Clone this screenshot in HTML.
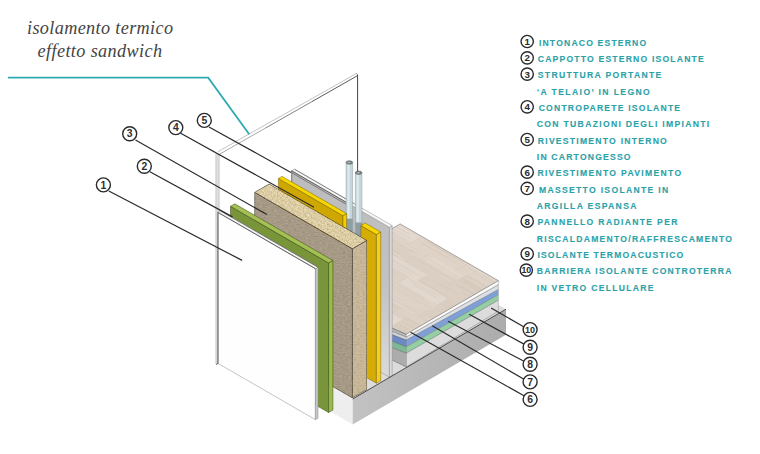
<!DOCTYPE html>
<html><head><meta charset="utf-8"><style>
html,body{margin:0;padding:0;background:#fff;}
body{width:760px;height:454px;overflow:hidden;font-family:"Liberation Sans",sans-serif;}
svg{display:block;}
</style></head><body>
<svg width="760" height="454" viewBox="0 0 760 454">
<defs>
<linearGradient id="baseg" x1="0" y1="0" x2="1" y2="0"><stop offset="0" stop-color="#c2c2c2"/><stop offset="1" stop-color="#acacac"/></linearGradient>
<linearGradient id="grayg" x1="0" y1="0" x2="0" y2="1"><stop offset="0" stop-color="#bcbcbc"/><stop offset="0.55" stop-color="#c2c2c2"/><stop offset="1" stop-color="#dadada"/></linearGradient>
<filter id="speckA" x="0" y="0" width="100%" height="100%" color-interpolation-filters="sRGB">
<feTurbulence type="fractalNoise" baseFrequency="0.35 0.9" numOctaves="2" seed="4" result="n"/>
<feColorMatrix in="n" type="matrix" values="1 0 0 0 0  1 0 0 0 0  1 0 0 0 0  0 0 0 0 1" result="g"/>
<feComposite in="g" in2="SourceGraphic" operator="arithmetic" k1="0" k2="0.15" k3="1" k4="-0.075" result="c"/>
<feComposite in="c" in2="SourceGraphic" operator="in"/>
</filter>
<filter id="speckB" x="0" y="0" width="100%" height="100%" color-interpolation-filters="sRGB">
<feTurbulence type="fractalNoise" baseFrequency="0.62" numOctaves="2" seed="9" result="n"/>
<feColorMatrix in="n" type="matrix" values="1 0 0 0 0  1 0 0 0 0  1 0 0 0 0  0 0 0 0 1" result="g"/>
<feComposite in="g" in2="SourceGraphic" operator="arithmetic" k1="0" k2="0.3" k3="1" k4="-0.15" result="c"/>
<feComposite in="c" in2="SourceGraphic" operator="in"/>
</filter>
</defs>
<rect width="760" height="454" fill="#ffffff"/>
<line x1="218.00" y1="151.60" x2="356.40" y2="73.50" stroke="#bcbcbc" stroke-width="0.9" />
<line x1="219.60" y1="154.20" x2="265.60" y2="128.00" stroke="#a0a0a0" stroke-width="0.9" />
<line x1="265.60" y1="128.00" x2="311.60" y2="101.80" stroke="#7a7a7a" stroke-width="0.95" />
<line x1="311.60" y1="101.80" x2="357.60" y2="75.60" stroke="#5a5a5a" stroke-width="1.0" />
<line x1="356.40" y1="73.50" x2="357.90" y2="74.80" stroke="#666" stroke-width="0.9" />
<line x1="357.60" y1="75.00" x2="357.60" y2="172.00" stroke="#444" stroke-width="1.0" />
<rect x="215.8" y="153.6" width="3.4" height="210.4" fill="#dedede"/>
<line x1="215.80" y1="153.60" x2="215.80" y2="364.00" stroke="#bcbcbc" stroke-width="0.6" />
<line x1="219.20" y1="153.60" x2="219.20" y2="212.50" stroke="#b8b8b8" stroke-width="0.6" />
<polygon points="232.70,329.72 352.70,399.00 506.00,309.20 386.00,239.92" fill="#dcdcdc" />
<polygon points="232.70,329.72 352.70,399.00 352.70,424.40 232.70,355.12" fill="#eeeeee" />
<polygon points="352.70,399.00 506.00,309.20 506.00,334.70 352.70,424.40" fill="url(#baseg)" />
<polygon points="406.20,334.20 498.40,280.70 498.40,284.60 406.20,337.00" fill="#fbfbfb" />
<polygon points="406.20,337.00 498.40,284.60 498.40,289.40 406.20,340.00" fill="#dcdfe3" />
<polygon points="406.20,340.00 498.40,289.40 498.40,294.70 406.20,346.80" fill="#7f9fd9" />
<polygon points="406.20,346.80 498.40,294.70 498.40,300.10 406.20,353.20" fill="#93cfa3" />
<polygon points="406.20,353.20 498.40,300.10 498.40,311.20 406.20,367.00" fill="#dcdcdc" />
<line x1="406.20" y1="337.00" x2="498.40" y2="284.60" stroke="#555" stroke-width="0.45" />
<line x1="406.20" y1="340.00" x2="498.40" y2="289.40" stroke="#6a6a6a" stroke-width="0.45" />
<line x1="406.20" y1="346.80" x2="498.40" y2="294.70" stroke="#6a6a6a" stroke-width="0.45" />
<line x1="406.20" y1="353.20" x2="498.40" y2="300.10" stroke="#555" stroke-width="0.45" />
<line x1="406.20" y1="367.00" x2="498.40" y2="311.20" stroke="#777" stroke-width="0.5" />
<line x1="406.20" y1="334.20" x2="406.20" y2="367.00" stroke="#666" stroke-width="0.5" />
<line x1="498.40" y1="280.70" x2="498.40" y2="311.20" stroke="#999" stroke-width="0.5" />
<polygon points="392.00,327.80 406.20,334.20 406.20,337.00 392.00,331.20" fill="#b9b9b9" />
<polygon points="392.00,331.20 406.20,337.00 406.20,340.00 392.00,334.60" fill="#d2d4d8" />
<polygon points="392.00,334.60 406.20,340.00 406.20,346.80 392.00,341.20" fill="#6b89c2" />
<polygon points="392.00,341.20 406.20,346.80 406.20,353.20 392.00,347.60" fill="#7cb893" />
<polygon points="392.00,347.60 406.20,353.20 406.20,367.00 392.00,360.00" fill="#acacac" />
<line x1="392.00" y1="331.20" x2="406.20" y2="337.00" stroke="#555" stroke-width="0.45" />
<line x1="392.00" y1="334.60" x2="406.20" y2="340.00" stroke="#555" stroke-width="0.45" />
<line x1="392.00" y1="341.20" x2="406.20" y2="346.80" stroke="#555" stroke-width="0.45" />
<line x1="392.00" y1="347.60" x2="406.20" y2="353.20" stroke="#555" stroke-width="0.45" />
<line x1="392.00" y1="360.00" x2="406.20" y2="367.00" stroke="#555" stroke-width="0.45" />
<line x1="392.00" y1="327.80" x2="406.20" y2="334.20" stroke="#555" stroke-width="0.5" />
<clipPath id="woodclip"><polygon points="400.20,223.90 498.40,280.70 406.20,334.20 390.00,327.00 390.00,229.80"/></clipPath>
<g clip-path="url(#woodclip)">
<polygon points="400.20,223.90 498.40,280.70 406.20,334.20 390.00,327.00 390.00,229.80" fill="#ddd1c5" />
<polygon points="384.01,214.55 422.03,236.50 411.78,242.45 373.76,220.50" fill="#e3d9cf" />
<line x1="394.91" y1="222.49" x2="419.19" y2="236.51" stroke="#d4c6b9" stroke-width="0.45" />
<line x1="390.12" y1="219.82" x2="419.96" y2="237.05" stroke="#e9e0d7" stroke-width="0.45" />
<line x1="383.17" y1="219.22" x2="409.31" y2="234.31" stroke="#d0c2b4" stroke-width="0.45" />
<line x1="378.06" y1="220.15" x2="410.88" y2="239.09" stroke="#d4c6b9" stroke-width="0.45" />
<line x1="422.03" y1="236.50" x2="411.78" y2="242.45" stroke="#c9b9aa" stroke-width="0.4" />
<polygon points="422.03,236.50 468.69,263.44 458.44,269.38 411.78,242.45" fill="#dfd3c8" />
<line x1="422.22" y1="243.28" x2="448.29" y2="258.32" stroke="#d0c2b4" stroke-width="0.45" />
<line x1="418.44" y1="240.90" x2="456.81" y2="263.05" stroke="#d4c6b9" stroke-width="0.45" />
<line x1="424.66" y1="240.33" x2="454.45" y2="257.53" stroke="#d0c2b4" stroke-width="0.45" />
<line x1="428.72" y1="242.53" x2="464.00" y2="262.90" stroke="#d0c2b4" stroke-width="0.45" />
<line x1="468.69" y1="263.44" x2="458.44" y2="269.38" stroke="#c9b9aa" stroke-width="0.4" />
<polygon points="468.69,263.44 514.64,289.97 504.40,295.92 458.44,269.38" fill="#dfd3c8" />
<line x1="472.32" y1="272.08" x2="501.54" y2="288.95" stroke="#d4c6b9" stroke-width="0.45" />
<line x1="468.87" y1="268.79" x2="501.33" y2="287.53" stroke="#e9e0d7" stroke-width="0.45" />
<line x1="468.42" y1="267.91" x2="507.96" y2="290.73" stroke="#d0c2b4" stroke-width="0.45" />
<line x1="471.49" y1="267.02" x2="505.52" y2="286.67" stroke="#e9e0d7" stroke-width="0.45" />
<line x1="514.64" y1="289.97" x2="504.40" y2="295.92" stroke="#c9b9aa" stroke-width="0.4" />
<polygon points="353.48,208.79 394.24,232.32 384.00,238.26 343.24,214.73" fill="#dfd3c8" />
<line x1="357.76" y1="213.56" x2="380.89" y2="226.92" stroke="#d0c2b4" stroke-width="0.45" />
<line x1="351.14" y1="217.47" x2="371.14" y2="229.02" stroke="#d0c2b4" stroke-width="0.45" />
<line x1="354.79" y1="217.98" x2="373.82" y2="228.97" stroke="#e9e0d7" stroke-width="0.45" />
<line x1="354.92" y1="214.03" x2="382.98" y2="230.23" stroke="#e9e0d7" stroke-width="0.45" />
<line x1="394.24" y1="232.32" x2="384.00" y2="238.26" stroke="#c9b9aa" stroke-width="0.4" />
<polygon points="394.24,232.32 430.62,253.32 420.37,259.26 384.00,238.26" fill="#dfd3c8" />
<line x1="392.59" y1="241.51" x2="411.89" y2="252.66" stroke="#d0c2b4" stroke-width="0.45" />
<line x1="391.87" y1="239.07" x2="414.93" y2="252.39" stroke="#d4c6b9" stroke-width="0.45" />
<line x1="390.75" y1="239.29" x2="417.07" y2="254.48" stroke="#d4c6b9" stroke-width="0.45" />
<line x1="404.48" y1="242.71" x2="421.42" y2="252.49" stroke="#d4c6b9" stroke-width="0.45" />
<line x1="430.62" y1="253.32" x2="420.37" y2="259.26" stroke="#c9b9aa" stroke-width="0.4" />
<polygon points="430.62,253.32 467.96,274.88 457.71,280.82 420.37,259.26" fill="#dfd3c8" />
<line x1="432.12" y1="257.44" x2="454.07" y2="270.12" stroke="#e9e0d7" stroke-width="0.45" />
<line x1="439.46" y1="263.32" x2="462.52" y2="276.64" stroke="#e9e0d7" stroke-width="0.45" />
<line x1="430.47" y1="258.23" x2="461.59" y2="276.20" stroke="#e9e0d7" stroke-width="0.45" />
<line x1="426.69" y1="260.43" x2="453.62" y2="275.99" stroke="#e9e0d7" stroke-width="0.45" />
<line x1="467.96" y1="274.88" x2="457.71" y2="280.82" stroke="#c9b9aa" stroke-width="0.4" />
<polygon points="467.96,274.88 516.61,302.97 506.37,308.91 457.71,280.82" fill="#d9cdc0" />
<line x1="461.35" y1="281.34" x2="505.10" y2="306.59" stroke="#d0c2b4" stroke-width="0.45" />
<line x1="461.72" y1="278.71" x2="497.73" y2="299.50" stroke="#d0c2b4" stroke-width="0.45" />
<line x1="464.84" y1="276.76" x2="507.15" y2="301.19" stroke="#e9e0d7" stroke-width="0.45" />
<line x1="466.72" y1="281.13" x2="508.71" y2="305.38" stroke="#d4c6b9" stroke-width="0.45" />
<line x1="516.61" y1="302.97" x2="506.37" y2="308.91" stroke="#c9b9aa" stroke-width="0.4" />
<polygon points="332.20,208.36 380.30,236.13 370.05,242.07 321.96,214.30" fill="#e3d9cf" />
<line x1="344.23" y1="217.00" x2="367.13" y2="230.22" stroke="#d4c6b9" stroke-width="0.45" />
<line x1="330.52" y1="216.15" x2="366.75" y2="237.06" stroke="#d0c2b4" stroke-width="0.45" />
<line x1="333.24" y1="214.71" x2="372.47" y2="237.36" stroke="#d0c2b4" stroke-width="0.45" />
<line x1="329.21" y1="212.00" x2="366.65" y2="233.62" stroke="#d0c2b4" stroke-width="0.45" />
<line x1="380.30" y1="236.13" x2="370.05" y2="242.07" stroke="#c9b9aa" stroke-width="0.4" />
<polygon points="380.30,236.13 415.30,256.34 405.06,262.28 370.05,242.07" fill="#dbcfc3" />
<line x1="389.11" y1="247.49" x2="400.68" y2="254.17" stroke="#d0c2b4" stroke-width="0.45" />
<line x1="381.32" y1="246.20" x2="404.89" y2="259.80" stroke="#e9e0d7" stroke-width="0.45" />
<line x1="380.48" y1="246.48" x2="399.34" y2="257.37" stroke="#d0c2b4" stroke-width="0.45" />
<line x1="387.21" y1="249.36" x2="400.33" y2="256.93" stroke="#e9e0d7" stroke-width="0.45" />
<line x1="415.30" y1="256.34" x2="405.06" y2="262.28" stroke="#c9b9aa" stroke-width="0.4" />
<polygon points="415.30,256.34 456.54,280.15 446.30,286.09 405.06,262.28" fill="#dbcfc3" />
<line x1="418.58" y1="260.39" x2="450.71" y2="278.93" stroke="#d4c6b9" stroke-width="0.45" />
<line x1="413.30" y1="257.90" x2="439.93" y2="273.27" stroke="#d4c6b9" stroke-width="0.45" />
<line x1="421.67" y1="264.63" x2="438.84" y2="274.54" stroke="#d4c6b9" stroke-width="0.45" />
<line x1="421.48" y1="263.92" x2="451.71" y2="281.37" stroke="#e9e0d7" stroke-width="0.45" />
<line x1="456.54" y1="280.15" x2="446.30" y2="286.09" stroke="#c9b9aa" stroke-width="0.4" />
<polygon points="456.54,280.15 501.91,306.34 491.66,312.28 446.30,286.09" fill="#dbcfc3" />
<line x1="455.94" y1="284.36" x2="489.85" y2="303.94" stroke="#d4c6b9" stroke-width="0.45" />
<line x1="456.16" y1="284.24" x2="486.01" y2="301.47" stroke="#d0c2b4" stroke-width="0.45" />
<line x1="461.19" y1="291.66" x2="483.18" y2="304.36" stroke="#d0c2b4" stroke-width="0.45" />
<line x1="461.27" y1="285.96" x2="488.28" y2="301.55" stroke="#d0c2b4" stroke-width="0.45" />
<line x1="501.91" y1="306.34" x2="491.66" y2="312.28" stroke="#c9b9aa" stroke-width="0.4" />
<polygon points="329.96,218.92 374.41,244.58 364.16,250.53 319.72,224.87" fill="#dbcfc3" />
<line x1="337.61" y1="231.10" x2="361.00" y2="244.60" stroke="#d4c6b9" stroke-width="0.45" />
<line x1="335.16" y1="232.49" x2="359.81" y2="246.72" stroke="#d0c2b4" stroke-width="0.45" />
<line x1="335.15" y1="224.08" x2="367.48" y2="242.74" stroke="#e9e0d7" stroke-width="0.45" />
<line x1="337.33" y1="230.28" x2="355.66" y2="240.87" stroke="#e9e0d7" stroke-width="0.45" />
<line x1="374.41" y1="244.58" x2="364.16" y2="250.53" stroke="#c9b9aa" stroke-width="0.4" />
<polygon points="374.41,244.58 427.59,275.29 417.35,281.24 364.16,250.53" fill="#e2d7cd" />
<line x1="368.10" y1="249.72" x2="410.10" y2="273.97" stroke="#e9e0d7" stroke-width="0.45" />
<line x1="378.22" y1="255.40" x2="412.98" y2="275.47" stroke="#d0c2b4" stroke-width="0.45" />
<line x1="379.36" y1="252.75" x2="421.71" y2="277.20" stroke="#d4c6b9" stroke-width="0.45" />
<line x1="376.16" y1="250.54" x2="409.12" y2="269.57" stroke="#d4c6b9" stroke-width="0.45" />
<line x1="427.59" y1="275.29" x2="417.35" y2="281.24" stroke="#c9b9aa" stroke-width="0.4" />
<polygon points="427.59,275.29 465.77,297.33 455.52,303.28 417.35,281.24" fill="#dbcfc3" />
<line x1="435.20" y1="281.13" x2="457.54" y2="294.03" stroke="#d4c6b9" stroke-width="0.45" />
<line x1="437.76" y1="283.74" x2="448.84" y2="290.13" stroke="#d4c6b9" stroke-width="0.45" />
<line x1="421.22" y1="281.69" x2="448.84" y2="297.64" stroke="#d0c2b4" stroke-width="0.45" />
<line x1="441.01" y1="284.36" x2="454.88" y2="292.37" stroke="#d4c6b9" stroke-width="0.45" />
<line x1="465.77" y1="297.33" x2="455.52" y2="303.28" stroke="#c9b9aa" stroke-width="0.4" />
<polygon points="465.77,297.33 515.76,326.19 505.51,332.14 455.52,303.28" fill="#dbcfc3" />
<line x1="474.26" y1="307.54" x2="498.78" y2="321.70" stroke="#d0c2b4" stroke-width="0.45" />
<line x1="467.70" y1="299.90" x2="506.99" y2="322.58" stroke="#d4c6b9" stroke-width="0.45" />
<line x1="470.24" y1="304.19" x2="499.55" y2="321.11" stroke="#d0c2b4" stroke-width="0.45" />
<line x1="462.59" y1="305.32" x2="500.40" y2="327.15" stroke="#d4c6b9" stroke-width="0.45" />
<line x1="515.76" y1="326.19" x2="505.51" y2="332.14" stroke="#c9b9aa" stroke-width="0.4" />
<polygon points="318.47,224.15 363.81,250.32 353.56,256.27 308.23,230.09" fill="#dccfc3" />
<line x1="317.45" y1="233.45" x2="347.28" y2="250.68" stroke="#d4c6b9" stroke-width="0.45" />
<line x1="326.35" y1="234.73" x2="346.95" y2="246.62" stroke="#d4c6b9" stroke-width="0.45" />
<line x1="329.40" y1="231.68" x2="360.16" y2="249.44" stroke="#e9e0d7" stroke-width="0.45" />
<line x1="314.18" y1="228.73" x2="356.78" y2="253.33" stroke="#d4c6b9" stroke-width="0.45" />
<line x1="363.81" y1="250.32" x2="353.56" y2="256.27" stroke="#c9b9aa" stroke-width="0.4" />
<polygon points="363.81,250.32 409.17,276.52 398.93,282.46 353.56,256.27" fill="#ddd1c5" />
<line x1="370.47" y1="259.94" x2="390.94" y2="271.76" stroke="#d0c2b4" stroke-width="0.45" />
<line x1="364.90" y1="254.50" x2="394.53" y2="271.60" stroke="#d4c6b9" stroke-width="0.45" />
<line x1="359.49" y1="253.31" x2="391.03" y2="271.52" stroke="#d0c2b4" stroke-width="0.45" />
<line x1="368.34" y1="258.33" x2="396.93" y2="274.84" stroke="#d4c6b9" stroke-width="0.45" />
<line x1="409.17" y1="276.52" x2="398.93" y2="282.46" stroke="#c9b9aa" stroke-width="0.4" />
<polygon points="409.17,276.52 448.16,299.03 437.92,304.97 398.93,282.46" fill="#e2d7cd" />
<line x1="412.44" y1="283.88" x2="436.26" y2="297.63" stroke="#d0c2b4" stroke-width="0.45" />
<line x1="415.57" y1="288.03" x2="427.27" y2="294.79" stroke="#e9e0d7" stroke-width="0.45" />
<line x1="413.98" y1="289.23" x2="436.53" y2="302.25" stroke="#e9e0d7" stroke-width="0.45" />
<line x1="408.85" y1="278.82" x2="439.38" y2="296.44" stroke="#d0c2b4" stroke-width="0.45" />
<line x1="448.16" y1="299.03" x2="437.92" y2="304.97" stroke="#c9b9aa" stroke-width="0.4" />
<polygon points="448.16,299.03 496.58,326.98 486.34,332.93 437.92,304.97" fill="#d9cdc0" />
<line x1="456.58" y1="305.77" x2="483.20" y2="321.14" stroke="#d0c2b4" stroke-width="0.45" />
<line x1="449.09" y1="309.66" x2="482.37" y2="328.87" stroke="#e9e0d7" stroke-width="0.45" />
<line x1="454.41" y1="312.20" x2="485.03" y2="329.87" stroke="#d0c2b4" stroke-width="0.45" />
<line x1="451.18" y1="305.73" x2="477.45" y2="320.90" stroke="#d0c2b4" stroke-width="0.45" />
<line x1="496.58" y1="326.98" x2="486.34" y2="332.93" stroke="#c9b9aa" stroke-width="0.4" />
<polygon points="340.90,248.96 384.53,274.15 374.29,280.10 330.66,254.91" fill="#ddd1c5" />
<line x1="342.89" y1="255.12" x2="374.85" y2="273.58" stroke="#d0c2b4" stroke-width="0.45" />
<line x1="334.25" y1="253.16" x2="369.28" y2="273.38" stroke="#e9e0d7" stroke-width="0.45" />
<line x1="339.88" y1="256.23" x2="369.99" y2="273.61" stroke="#e9e0d7" stroke-width="0.45" />
<line x1="336.65" y1="252.55" x2="364.54" y2="268.65" stroke="#d0c2b4" stroke-width="0.45" />
<line x1="384.53" y1="274.15" x2="374.29" y2="280.10" stroke="#c9b9aa" stroke-width="0.4" />
<polygon points="384.53,274.15 438.97,305.58 428.72,311.52 374.29,280.10" fill="#dfd3c8" />
<line x1="386.90" y1="277.50" x2="423.67" y2="298.73" stroke="#d0c2b4" stroke-width="0.45" />
<line x1="383.24" y1="277.15" x2="429.39" y2="303.80" stroke="#d4c6b9" stroke-width="0.45" />
<line x1="380.68" y1="280.88" x2="428.99" y2="308.77" stroke="#d4c6b9" stroke-width="0.45" />
<line x1="389.34" y1="283.52" x2="431.93" y2="308.11" stroke="#d0c2b4" stroke-width="0.45" />
<line x1="438.97" y1="305.58" x2="428.72" y2="311.52" stroke="#c9b9aa" stroke-width="0.4" />
<polygon points="438.97,305.58 489.96,335.02 479.72,340.96 428.72,311.52" fill="#dbcfc3" />
<line x1="435.54" y1="308.82" x2="471.38" y2="329.51" stroke="#d4c6b9" stroke-width="0.45" />
<line x1="441.13" y1="308.85" x2="479.09" y2="330.77" stroke="#d0c2b4" stroke-width="0.45" />
<line x1="450.34" y1="313.96" x2="481.58" y2="332.00" stroke="#e9e0d7" stroke-width="0.45" />
<line x1="436.06" y1="314.52" x2="467.06" y2="332.41" stroke="#d4c6b9" stroke-width="0.45" />
<line x1="489.96" y1="335.02" x2="479.72" y2="340.96" stroke="#c9b9aa" stroke-width="0.4" />
<polygon points="332.27,255.84 377.81,282.13 367.57,288.07 322.03,261.78" fill="#dbcfc3" />
<line x1="338.10" y1="269.29" x2="365.17" y2="284.92" stroke="#d0c2b4" stroke-width="0.45" />
<line x1="334.27" y1="260.09" x2="370.56" y2="281.04" stroke="#d0c2b4" stroke-width="0.45" />
<line x1="336.37" y1="262.14" x2="371.74" y2="282.56" stroke="#e9e0d7" stroke-width="0.45" />
<line x1="339.58" y1="268.87" x2="369.65" y2="286.22" stroke="#d0c2b4" stroke-width="0.45" />
<line x1="377.81" y1="282.13" x2="367.57" y2="288.07" stroke="#c9b9aa" stroke-width="0.4" />
<polygon points="377.81,282.13 427.47,310.80 417.23,316.74 367.57,288.07" fill="#ddd1c5" />
<line x1="376.48" y1="291.83" x2="414.75" y2="313.92" stroke="#e9e0d7" stroke-width="0.45" />
<line x1="388.20" y1="290.32" x2="419.09" y2="308.16" stroke="#e9e0d7" stroke-width="0.45" />
<line x1="385.64" y1="293.01" x2="407.42" y2="305.59" stroke="#e9e0d7" stroke-width="0.45" />
<line x1="385.89" y1="294.50" x2="415.67" y2="311.70" stroke="#d4c6b9" stroke-width="0.45" />
<line x1="427.47" y1="310.80" x2="417.23" y2="316.74" stroke="#c9b9aa" stroke-width="0.4" />
<polygon points="427.47,310.80 477.05,339.42 466.80,345.37 417.23,316.74" fill="#dbcfc3" />
<line x1="428.34" y1="316.33" x2="471.89" y2="341.47" stroke="#d0c2b4" stroke-width="0.45" />
<line x1="435.71" y1="316.88" x2="462.71" y2="332.47" stroke="#e9e0d7" stroke-width="0.45" />
<line x1="426.38" y1="312.90" x2="462.07" y2="333.51" stroke="#d4c6b9" stroke-width="0.45" />
<line x1="425.18" y1="317.02" x2="466.90" y2="341.11" stroke="#e9e0d7" stroke-width="0.45" />
<line x1="477.05" y1="339.42" x2="466.80" y2="345.37" stroke="#c9b9aa" stroke-width="0.4" />
<polygon points="326.23,264.21 364.93,286.55 354.69,292.50 315.98,270.15" fill="#e2d7cd" />
<line x1="325.50" y1="269.20" x2="345.83" y2="280.94" stroke="#d4c6b9" stroke-width="0.45" />
<line x1="323.07" y1="266.64" x2="348.02" y2="281.04" stroke="#d0c2b4" stroke-width="0.45" />
<line x1="322.30" y1="266.50" x2="355.26" y2="285.54" stroke="#e9e0d7" stroke-width="0.45" />
<line x1="332.76" y1="271.81" x2="357.90" y2="286.32" stroke="#d0c2b4" stroke-width="0.45" />
<line x1="364.93" y1="286.55" x2="354.69" y2="292.50" stroke="#c9b9aa" stroke-width="0.4" />
<polygon points="364.93,286.55 401.75,307.81 391.51,313.75 354.69,292.50" fill="#dccfc3" />
<line x1="369.17" y1="291.03" x2="399.37" y2="308.47" stroke="#d0c2b4" stroke-width="0.45" />
<line x1="370.90" y1="294.03" x2="397.00" y2="309.10" stroke="#d4c6b9" stroke-width="0.45" />
<line x1="359.25" y1="292.55" x2="380.34" y2="304.73" stroke="#d4c6b9" stroke-width="0.45" />
<line x1="365.61" y1="291.82" x2="382.76" y2="301.73" stroke="#d0c2b4" stroke-width="0.45" />
<line x1="401.75" y1="307.81" x2="391.51" y2="313.75" stroke="#c9b9aa" stroke-width="0.4" />
<polygon points="401.75,307.81 442.43,331.30 432.19,337.24 391.51,313.75" fill="#ddd1c5" />
<line x1="396.11" y1="311.84" x2="423.61" y2="327.72" stroke="#d4c6b9" stroke-width="0.45" />
<line x1="406.59" y1="317.74" x2="424.09" y2="327.84" stroke="#d0c2b4" stroke-width="0.45" />
<line x1="404.56" y1="319.25" x2="425.43" y2="331.30" stroke="#d0c2b4" stroke-width="0.45" />
<line x1="402.71" y1="317.39" x2="421.24" y2="328.09" stroke="#d4c6b9" stroke-width="0.45" />
<line x1="442.43" y1="331.30" x2="432.19" y2="337.24" stroke="#c9b9aa" stroke-width="0.4" />
<polygon points="270.44,243.86 318.30,271.49 308.05,277.43 260.20,249.80" fill="#dfd3c8" />
<line x1="271.16" y1="245.75" x2="311.61" y2="269.11" stroke="#d0c2b4" stroke-width="0.45" />
<line x1="273.10" y1="250.15" x2="313.43" y2="273.43" stroke="#d0c2b4" stroke-width="0.45" />
<line x1="274.49" y1="253.32" x2="304.80" y2="270.82" stroke="#d0c2b4" stroke-width="0.45" />
<line x1="266.72" y1="247.23" x2="299.54" y2="266.18" stroke="#d4c6b9" stroke-width="0.45" />
<line x1="318.30" y1="271.49" x2="308.05" y2="277.43" stroke="#c9b9aa" stroke-width="0.4" />
<polygon points="318.30,271.49 355.14,292.76 344.89,298.70 308.05,277.43" fill="#ddd1c5" />
<line x1="327.78" y1="278.78" x2="349.79" y2="291.48" stroke="#d0c2b4" stroke-width="0.45" />
<line x1="313.86" y1="278.14" x2="335.83" y2="290.82" stroke="#d0c2b4" stroke-width="0.45" />
<line x1="325.85" y1="284.05" x2="340.64" y2="292.59" stroke="#e9e0d7" stroke-width="0.45" />
<line x1="330.30" y1="280.33" x2="349.17" y2="291.23" stroke="#d0c2b4" stroke-width="0.45" />
<line x1="355.14" y1="292.76" x2="344.89" y2="298.70" stroke="#c9b9aa" stroke-width="0.4" />
<polygon points="355.14,292.76 402.48,320.09 392.23,326.03 344.89,298.70" fill="#e3d9cf" />
<line x1="361.48" y1="299.49" x2="394.85" y2="318.75" stroke="#d4c6b9" stroke-width="0.45" />
<line x1="352.59" y1="299.52" x2="386.84" y2="319.30" stroke="#d0c2b4" stroke-width="0.45" />
<line x1="357.45" y1="299.85" x2="382.91" y2="314.55" stroke="#d0c2b4" stroke-width="0.45" />
<line x1="358.58" y1="302.49" x2="391.42" y2="321.45" stroke="#d4c6b9" stroke-width="0.45" />
<line x1="402.48" y1="320.09" x2="392.23" y2="326.03" stroke="#c9b9aa" stroke-width="0.4" />
<polygon points="402.48,320.09 443.19,343.59 432.94,349.54 392.23,326.03" fill="#d9cdc0" />
<line x1="399.41" y1="323.93" x2="424.94" y2="338.66" stroke="#d0c2b4" stroke-width="0.45" />
<line x1="400.19" y1="322.91" x2="432.51" y2="341.57" stroke="#e9e0d7" stroke-width="0.45" />
<line x1="409.99" y1="329.96" x2="423.88" y2="337.98" stroke="#e9e0d7" stroke-width="0.45" />
<line x1="399.11" y1="328.76" x2="420.27" y2="340.98" stroke="#d0c2b4" stroke-width="0.45" />
<line x1="443.19" y1="343.59" x2="432.94" y2="349.54" stroke="#c9b9aa" stroke-width="0.4" />
</g>
<polygon points="400.20,223.90 498.40,280.70 406.20,334.20 390.00,327.00 390.00,229.80" fill="none" stroke="#6a6a6a" stroke-width="0.55" stroke-linejoin="round" />
<polygon points="291.70,170.80 389.40,227.21 389.40,377.21 291.70,320.80" fill="url(#grayg)" stroke="#8a8a8a" stroke-width="0.5" stroke-linejoin="round" />
<polygon points="389.40,227.21 392.20,225.59 392.20,375.59 389.40,377.21" fill="#d8d8d8" stroke="#8a8a8a" stroke-width="0.5" stroke-linejoin="round" />
<polygon points="291.70,170.80 389.40,227.21 392.20,225.59 294.50,169.18" fill="#f6f6f6" stroke="#8a8a8a" stroke-width="0.5" stroke-linejoin="round" />
<line x1="291.70" y1="170.80" x2="351.70" y2="205.44" stroke="#3c3c3c" stroke-width="0.7" />
<line x1="291.70" y1="172.80" x2="351.70" y2="207.44" stroke="#4a4a4a" stroke-width="0.6" />
<line x1="294.50" y1="169.18" x2="354.50" y2="203.82" stroke="#555" stroke-width="0.6" />
<line x1="291.70" y1="170.80" x2="291.70" y2="200.00" stroke="#666" stroke-width="0.7" />
<rect x="346.1" y="162.5" width="6.5" height="97.5" fill="#c5d6da"/>
<rect x="347.3" y="162.5" width="2.275" height="97.5" fill="#dde9eb"/>
<rect x="346.1" y="218.7" width="6.5" height="41.30000000000001" fill="#8e9ea2"/>
<line x1="346.10" y1="162.50" x2="346.10" y2="260.00" stroke="#8a9a9e" stroke-width="0.5" />
<line x1="352.60" y1="162.50" x2="352.60" y2="260.00" stroke="#8a9a9e" stroke-width="0.5" />
<ellipse cx="349.35" cy="162.5" rx="3.25" ry="1.7" fill="#7d8787" stroke="#4f5858" stroke-width="0.6"/>
<ellipse cx="349.05" cy="162.6" rx="1.7875" ry="0.8" fill="#a9b2b2"/>
<rect x="355.4" y="172.7" width="6.5" height="89.30000000000001" fill="#c5d6da"/>
<rect x="356.59999999999997" y="172.7" width="2.275" height="89.30000000000001" fill="#dde9eb"/>
<rect x="355.4" y="222.5" width="6.5" height="39.5" fill="#8e9ea2"/>
<line x1="355.40" y1="172.70" x2="355.40" y2="262.00" stroke="#8a9a9e" stroke-width="0.5" />
<line x1="361.90" y1="172.70" x2="361.90" y2="262.00" stroke="#8a9a9e" stroke-width="0.5" />
<ellipse cx="358.65" cy="172.7" rx="3.25" ry="1.7" fill="#7d8787" stroke="#4f5858" stroke-width="0.6"/>
<ellipse cx="358.34999999999997" cy="172.79999999999998" rx="1.7875" ry="0.8" fill="#a9b2b2"/>
<polygon points="278.40,178.40 343.00,215.70 343.00,275.70 278.40,238.40" fill="#cfa702" stroke="#5a4a00" stroke-width="0.4" stroke-linejoin="round" />
<polygon points="343.00,215.70 346.60,213.62 346.60,273.62 343.00,275.70" fill="#f2d000" stroke="#5a4a00" stroke-width="0.4" stroke-linejoin="round" />
<polygon points="278.40,178.40 343.00,215.70 346.60,213.62 282.00,176.32" fill="#f8d600" stroke="#5a4a00" stroke-width="0.4" stroke-linejoin="round" />
<polygon points="360.90,225.60 376.40,234.55 376.40,383.25 360.90,374.30" fill="#d5ab06" stroke="#5a4a00" stroke-width="0.4" stroke-linejoin="round" />
<polygon points="376.40,234.55 380.70,232.07 380.70,380.77 376.40,383.25" fill="#f5d114" stroke="#5a4a00" stroke-width="0.4" stroke-linejoin="round" />
<polygon points="360.90,225.60 376.40,234.55 380.70,232.07 365.20,223.12" fill="#f8d600" stroke="#5a4a00" stroke-width="0.4" stroke-linejoin="round" />
<polygon points="254.60,192.30 352.40,248.76 352.40,397.96 254.60,341.50" fill="#a69a86" stroke="#3a3020" stroke-width="0.6" stroke-linejoin="round" filter="url(#speckA)"/>
<polygon points="352.40,248.76 366.90,240.39 366.90,389.59 352.40,397.96" fill="#c6b697" stroke="#3a3020" stroke-width="0.6" stroke-linejoin="round" filter="url(#speckA)"/>
<polygon points="254.60,192.30 352.40,248.76 366.90,240.39 269.10,183.93" fill="#dccca4" stroke="#3a3020" stroke-width="0.6" stroke-linejoin="round" filter="url(#speckB)"/>
<polygon points="230.50,206.30 328.60,262.94 328.60,412.54 230.50,355.90" fill="#78953a" stroke="#3a4418" stroke-width="0.5" stroke-linejoin="round" />
<polygon points="328.60,262.94 332.90,260.46 332.90,410.06 328.60,412.54" fill="#96bd45" stroke="#3a4418" stroke-width="0.5" stroke-linejoin="round" />
<polygon points="230.50,206.30 328.60,262.94 332.90,260.46 234.80,203.82" fill="#a2c152" stroke="#3a4418" stroke-width="0.5" stroke-linejoin="round" />
<polygon points="217.80,212.30 315.40,268.65 315.40,419.65 217.80,363.30" fill="#fefefe" stroke="#8a8a8a" stroke-width="0.5" stroke-linejoin="round" />
<polygon points="315.40,268.65 318.00,267.15 318.00,418.15 315.40,419.65" fill="#c6c6cc" stroke="#8a8a8a" stroke-width="0.5" stroke-linejoin="round" />
<polygon points="217.80,212.30 315.40,268.65 318.00,267.15 220.40,210.80" fill="#f4f4f4" stroke="#8a8a8a" stroke-width="0.5" stroke-linejoin="round" />
<line x1="217.80" y1="212.30" x2="315.40" y2="268.65" stroke="#4a4a4a" stroke-width="0.7" />
<line x1="220.40" y1="210.80" x2="318.00" y2="267.15" stroke="#5a5a5a" stroke-width="0.6" />
<line x1="218.00" y1="212.50" x2="218.00" y2="363.40" stroke="#505050" stroke-width="0.9" />
<line x1="218.00" y1="363.40" x2="216.00" y2="364.60" stroke="#505050" stroke-width="0.9" />
<line x1="352.70" y1="399.00" x2="506.00" y2="309.20" stroke="#3a3a3a" stroke-width="0.9" />
<line x1="108.80" y1="191.00" x2="242.10" y2="260.40" stroke="#2a2a2a" stroke-width="1.2" />
<line x1="149.90" y1="171.80" x2="232.50" y2="216.90" stroke="#2a2a2a" stroke-width="1.2" />
<line x1="135.50" y1="140.00" x2="266.90" y2="214.50" stroke="#2a2a2a" stroke-width="1.2" />
<line x1="180.70" y1="133.20" x2="314.00" y2="207.20" stroke="#2a2a2a" stroke-width="1.2" />
<line x1="209.00" y1="127.00" x2="291.00" y2="172.40" stroke="#2a2a2a" stroke-width="1.2" />
<line x1="491.10" y1="308.00" x2="524.10" y2="327.00" stroke="#2a2a2a" stroke-width="1.2" />
<line x1="469.20" y1="314.30" x2="524.00" y2="344.10" stroke="#2a2a2a" stroke-width="1.2" />
<line x1="448.10" y1="321.20" x2="524.00" y2="361.30" stroke="#2a2a2a" stroke-width="1.2" />
<line x1="432.20" y1="325.70" x2="524.00" y2="379.30" stroke="#2a2a2a" stroke-width="1.2" />
<line x1="410.60" y1="332.30" x2="524.00" y2="395.70" stroke="#2a2a2a" stroke-width="1.2" />
<circle cx="103.4" cy="184.9" r="7.0" fill="#fff" stroke="#2a2a2a" stroke-width="1.4"/>
<text x="103.4" y="188.50" text-anchor="middle" font-family="Liberation Sans" font-weight="bold" font-size="10.4" fill="#2e2e2e">1</text>
<circle cx="144.3" cy="166.2" r="7.0" fill="#fff" stroke="#2a2a2a" stroke-width="1.4"/>
<text x="144.3" y="169.80" text-anchor="middle" font-family="Liberation Sans" font-weight="bold" font-size="10.4" fill="#2e2e2e">2</text>
<circle cx="129.7" cy="133.8" r="7.0" fill="#fff" stroke="#2a2a2a" stroke-width="1.4"/>
<text x="129.7" y="137.40" text-anchor="middle" font-family="Liberation Sans" font-weight="bold" font-size="10.4" fill="#2e2e2e">3</text>
<circle cx="175.8" cy="127.6" r="7.0" fill="#fff" stroke="#2a2a2a" stroke-width="1.4"/>
<text x="175.8" y="131.20" text-anchor="middle" font-family="Liberation Sans" font-weight="bold" font-size="10.4" fill="#2e2e2e">4</text>
<circle cx="204.3" cy="120.4" r="7.0" fill="#fff" stroke="#2a2a2a" stroke-width="1.4"/>
<text x="204.3" y="124.00" text-anchor="middle" font-family="Liberation Sans" font-weight="bold" font-size="10.4" fill="#2e2e2e">5</text>
<circle cx="530.1" cy="399.4" r="7.0" fill="#fff" stroke="#2a2a2a" stroke-width="1.4"/>
<text x="530.1" y="403.00" text-anchor="middle" font-family="Liberation Sans" font-weight="bold" font-size="10.4" fill="#2e2e2e">6</text>
<circle cx="530.1" cy="381.9" r="7.0" fill="#fff" stroke="#2a2a2a" stroke-width="1.4"/>
<text x="530.1" y="385.50" text-anchor="middle" font-family="Liberation Sans" font-weight="bold" font-size="10.4" fill="#2e2e2e">7</text>
<circle cx="530.1" cy="364.2" r="7.0" fill="#fff" stroke="#2a2a2a" stroke-width="1.4"/>
<text x="530.1" y="367.80" text-anchor="middle" font-family="Liberation Sans" font-weight="bold" font-size="10.4" fill="#2e2e2e">8</text>
<circle cx="530.1" cy="347.3" r="7.0" fill="#fff" stroke="#2a2a2a" stroke-width="1.4"/>
<text x="530.1" y="350.90" text-anchor="middle" font-family="Liberation Sans" font-weight="bold" font-size="10.4" fill="#2e2e2e">9</text>
<circle cx="530.1" cy="329.6" r="7.0" fill="#fff" stroke="#2a2a2a" stroke-width="1.4"/>
<text x="525.10" y="333.00" font-family="Liberation Sans" font-weight="bold" font-size="9.6" fill="#2e2e2e" textLength="10" lengthAdjust="spacingAndGlyphs">10</text>
<polyline points="8,77.6 208.2,77.6 249.2,134.3" fill="none" stroke="#2eaab2" stroke-width="1.8"/>
<text x="27.0" y="33.8" font-family="Liberation Serif" font-style="italic" font-size="18.2" fill="#444" textLength="146.0" lengthAdjust="spacing">isolamento termico</text>
<text x="37.6" y="57.4" font-family="Liberation Serif" font-style="italic" font-size="18.2" fill="#444" textLength="124.4" lengthAdjust="spacing">effetto sandwich</text>
<circle cx="527.2" cy="41.50" r="6.15" fill="#fff" stroke="#2a2a2a" stroke-width="1.4"/>
<text x="527.2" y="45.00" text-anchor="middle" font-family="Liberation Sans" font-weight="bold" font-size="9.8" fill="#2a2a2a">1</text>
<text x="538.9" y="45.70" font-family="Liberation Sans" font-weight="bold" font-size="8.6" fill="#2aa2a8" stroke="#2aa2a8" stroke-width="0.12" textLength="107.3" lengthAdjust="spacing">INTONACO ESTERNO</text>
<circle cx="527.2" cy="57.83" r="6.15" fill="#fff" stroke="#2a2a2a" stroke-width="1.4"/>
<text x="527.2" y="61.33" text-anchor="middle" font-family="Liberation Sans" font-weight="bold" font-size="9.8" fill="#2a2a2a">2</text>
<text x="537.8" y="62.03" font-family="Liberation Sans" font-weight="bold" font-size="8.6" fill="#2aa2a8" stroke="#2aa2a8" stroke-width="0.12" textLength="165.9" lengthAdjust="spacing">CAPPOTTO ESTERNO ISOLANTE</text>
<circle cx="527.2" cy="74.16" r="6.15" fill="#fff" stroke="#2a2a2a" stroke-width="1.4"/>
<text x="527.2" y="77.66" text-anchor="middle" font-family="Liberation Sans" font-weight="bold" font-size="9.8" fill="#2a2a2a">3</text>
<text x="537.8" y="78.36" font-family="Liberation Sans" font-weight="bold" font-size="8.6" fill="#2aa2a8" stroke="#2aa2a8" stroke-width="0.12" textLength="123.5" lengthAdjust="spacing">STRUTTURA PORTANTE</text>
<text x="536.8" y="94.69" font-family="Liberation Sans" font-weight="bold" font-size="8.6" fill="#2aa2a8" stroke="#2aa2a8" stroke-width="0.12" textLength="113.0" lengthAdjust="spacing">‘A TELAIO’ IN LEGNO</text>
<circle cx="527.2" cy="106.82" r="6.15" fill="#fff" stroke="#2a2a2a" stroke-width="1.4"/>
<text x="527.2" y="110.32" text-anchor="middle" font-family="Liberation Sans" font-weight="bold" font-size="9.8" fill="#2a2a2a">4</text>
<text x="538.7" y="111.02" font-family="Liberation Sans" font-weight="bold" font-size="8.6" fill="#2aa2a8" stroke="#2aa2a8" stroke-width="0.12" textLength="141.4" lengthAdjust="spacing">CONTROPARETE ISOLANTE</text>
<text x="536.8" y="127.35" font-family="Liberation Sans" font-weight="bold" font-size="8.6" fill="#2aa2a8" stroke="#2aa2a8" stroke-width="0.12" textLength="172.4" lengthAdjust="spacing">CON TUBAZIONI DEGLI IMPIANTI</text>
<circle cx="527.2" cy="139.48" r="6.15" fill="#fff" stroke="#2a2a2a" stroke-width="1.4"/>
<text x="527.2" y="142.98" text-anchor="middle" font-family="Liberation Sans" font-weight="bold" font-size="9.8" fill="#2a2a2a">5</text>
<text x="537.8" y="143.68" font-family="Liberation Sans" font-weight="bold" font-size="8.6" fill="#2aa2a8" stroke="#2aa2a8" stroke-width="0.12" textLength="129.0" lengthAdjust="spacing">RIVESTIMENTO INTERNO</text>
<text x="536.8" y="160.01" font-family="Liberation Sans" font-weight="bold" font-size="8.6" fill="#2aa2a8" stroke="#2aa2a8" stroke-width="0.12" textLength="93.7" lengthAdjust="spacing">IN CARTONGESSO</text>
<circle cx="527.2" cy="172.14" r="6.15" fill="#fff" stroke="#2a2a2a" stroke-width="1.4"/>
<text x="527.2" y="175.64" text-anchor="middle" font-family="Liberation Sans" font-weight="bold" font-size="9.8" fill="#2a2a2a">6</text>
<text x="537.4" y="176.34" font-family="Liberation Sans" font-weight="bold" font-size="8.6" fill="#2aa2a8" stroke="#2aa2a8" stroke-width="0.12" textLength="143.7" lengthAdjust="spacing">RIVESTIMENTO PAVIMENTO</text>
<circle cx="527.2" cy="188.47" r="6.15" fill="#fff" stroke="#2a2a2a" stroke-width="1.4"/>
<text x="527.2" y="191.97" text-anchor="middle" font-family="Liberation Sans" font-weight="bold" font-size="9.8" fill="#2a2a2a">7</text>
<text x="538.9" y="192.67" font-family="Liberation Sans" font-weight="bold" font-size="8.6" fill="#2aa2a8" stroke="#2aa2a8" stroke-width="0.12" textLength="129.3" lengthAdjust="spacing">MASSETTO ISOLANTE IN</text>
<text x="536.8" y="209.00" font-family="Liberation Sans" font-weight="bold" font-size="8.6" fill="#2aa2a8" stroke="#2aa2a8" stroke-width="0.12" textLength="99.6" lengthAdjust="spacing">ARGILLA ESPANSA</text>
<circle cx="527.2" cy="221.13" r="6.15" fill="#fff" stroke="#2a2a2a" stroke-width="1.4"/>
<text x="527.2" y="224.63" text-anchor="middle" font-family="Liberation Sans" font-weight="bold" font-size="9.8" fill="#2a2a2a">8</text>
<text x="537.4" y="225.33" font-family="Liberation Sans" font-weight="bold" font-size="8.6" fill="#2aa2a8" stroke="#2aa2a8" stroke-width="0.12" textLength="140.0" lengthAdjust="spacing">PANNELLO RADIANTE PER</text>
<text x="536.8" y="241.66" font-family="Liberation Sans" font-weight="bold" font-size="8.6" fill="#2aa2a8" stroke="#2aa2a8" stroke-width="0.12" textLength="195.2" lengthAdjust="spacing">RISCALDAMENTO/RAFFRESCAMENTO</text>
<circle cx="527.2" cy="253.79" r="6.15" fill="#fff" stroke="#2a2a2a" stroke-width="1.4"/>
<text x="527.2" y="257.29" text-anchor="middle" font-family="Liberation Sans" font-weight="bold" font-size="9.8" fill="#2a2a2a">9</text>
<text x="537.4" y="257.99" font-family="Liberation Sans" font-weight="bold" font-size="8.6" fill="#2aa2a8" stroke="#2aa2a8" stroke-width="0.12" textLength="145.9" lengthAdjust="spacing">ISOLANTE TERMOACUSTICO</text>
<circle cx="526.3" cy="270.12" r="6.15" fill="#fff" stroke="#2a2a2a" stroke-width="1.4"/>
<text x="521.40" y="273.42" font-family="Liberation Sans" font-weight="bold" font-size="9.2" fill="#2a2a2a" textLength="9.8" lengthAdjust="spacingAndGlyphs">10</text>
<text x="536.8" y="274.32" font-family="Liberation Sans" font-weight="bold" font-size="8.6" fill="#2aa2a8" stroke="#2aa2a8" stroke-width="0.12" textLength="194.6" lengthAdjust="spacing">BARRIERA ISOLANTE CONTROTERRA</text>
<text x="536.8" y="290.65" font-family="Liberation Sans" font-weight="bold" font-size="8.6" fill="#2aa2a8" stroke="#2aa2a8" stroke-width="0.12" textLength="116.6" lengthAdjust="spacing">IN VETRO CELLULARE</text>
</svg>
</body></html>
